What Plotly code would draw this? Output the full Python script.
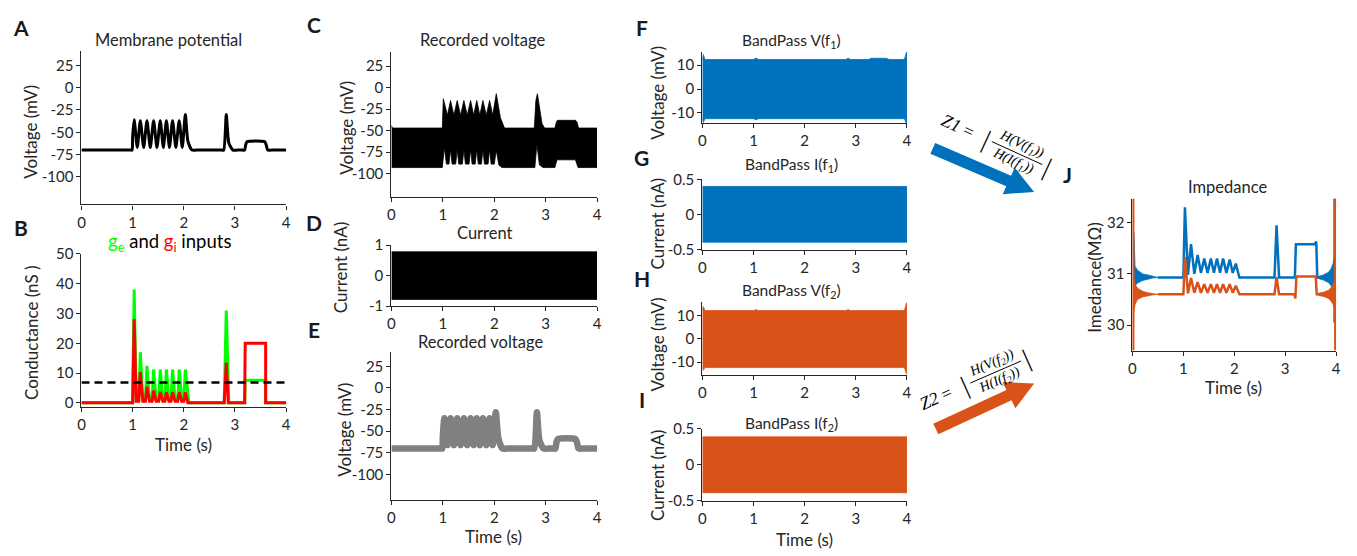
import math
import plotly.graph_objects as go

# ---------------- data ----------------
# A / E : membrane potential and recovered voltage (shared time vertices, s)
t_mem = [0, 0.97, 0.99, 1.0, 1.03, 1.09, 1.15, 1.215, 1.28, 1.345, 1.41, 1.475, 1.54, 1.60,
         1.66, 1.72, 1.78, 1.845, 1.91, 1.97, 2.03, 2.08, 2.16, 2.25, 2.74, 2.78, 2.83, 2.88,
         2.96, 3.05, 3.15, 3.19, 3.21, 3.24, 3.58, 3.61, 3.64, 3.72, 4.0]
v_membrane = [-70, -70, -70, -55, -36, -67, -37, -67, -37, -67, -37, -67, -37, -67, -37, -67,
              -37, -67, -37, -67, -30, -60, -70, -70, -70, -70, -30, -62, -70, -70, -70, -70,
              -64, -60.5, -60.5, -64, -70, -70, -70]
v_recovered = [-70, -70, -70, -56, -35, -66, -35, -66, -35, -66, -35, -66, -35, -66, -35, -66,
               -35, -66, -35, -66, -28, -58, -70, -70, -70, -70, -28, -61, -70, -70, -70, -70,
               -63, -59, -59, -63, -70, -70, -70]

# B : conductances (nS)
ge_t = [0, 1.0, 1.03, 1.07, 1.12, 1.15, 1.2, 1.25, 1.28, 1.33, 1.38, 1.41, 1.46, 1.51, 1.54,
        1.59, 1.63, 1.66, 1.71, 1.75, 1.78, 1.83, 1.88, 1.91, 1.96, 2.0, 2.03, 2.1, 2.79,
        2.83, 2.88, 3.19, 3.2, 3.6, 3.6, 4.0]
ge_v = [0, 0, 38, 1, 1, 17, 1, 1, 12.4, 1, 1, 11.2, 1, 1, 11.2, 1, 1, 11.2, 1, 1, 11.2, 1, 1,
        11.2, 1, 1, 11.2, 0, 0, 31, 0, 0, 7.6, 7.6, 0, 0]
gi_t = [0, 1.0, 1.03, 1.07, 1.12, 1.15, 1.2, 1.25, 1.28, 1.33, 1.38, 1.41, 1.46, 1.51, 1.54,
        1.59, 1.63, 1.66, 1.71, 1.75, 1.78, 1.83, 1.88, 1.91, 1.96, 2.0, 2.03, 2.08, 2.79,
        2.83, 2.87, 3.19, 3.2, 3.6, 3.6, 4.0]
gi_v = [0, 0, 28, 0.5, 0.5, 10.3, 0.5, 0.5, 5.4, 0.5, 0.5, 4.1, 0.5, 0.5, 3.7, 0.5, 0.5, 3.6,
        0.5, 0.5, 3.6, 0.5, 0.5, 3.6, 0.5, 0.5, 3.6, 0, 0, 13.5, 0, 0, 20, 20, 0, 0]
threshold_t = [0, 4]
threshold_v = [6.8, 6.8]

# C : recorded voltage envelope (mV)
c_up_t = [0, 0.02, 0.99, 1.01, 1.09, 1.15, 1.215, 1.28, 1.345, 1.41, 1.475, 1.54, 1.60, 1.66,
          1.72, 1.78, 1.845, 1.91, 1.97, 2.04, 2.12, 2.2, 2.78, 2.81, 2.84, 2.88, 2.93, 2.98,
          3.18, 3.21, 3.23, 3.58, 3.61, 3.64, 4.0]
c_up_v = [-44, -47, -47, -13, -32, -15, -32, -15, -32, -15, -32, -15, -32, -15, -32, -15, -32,
          -15, -32, -7, -35, -47, -47, -15, -7, -25, -42, -47, -47, -40, -38, -38, -40, -47, -47]
c_lo_t = [0, 0.99, 1.03, 1.07, 1.12, 1.15, 1.18, 1.25, 1.28, 1.31, 1.38, 1.41, 1.44, 1.51, 1.54,
          1.57, 1.63, 1.66, 1.69, 1.75, 1.78, 1.81, 1.88, 1.91, 1.94, 2.0, 2.04, 2.09, 2.15,
          2.79, 2.83, 2.88, 2.95, 3.18, 3.22, 3.58, 3.63, 4.0]
c_lo_v = [-93, -93, -70, -89, -89, -72, -89, -89, -72, -89, -89, -72, -89, -89, -72, -89, -89,
          -72, -89, -89, -72, -89, -89, -72, -89, -89, -73, -90, -93, -93, -66, -90, -93, -93,
          -84, -84, -93, -93]

# D : injected current envelope (nA)
d_t = [0, 4]
d_up = [0.78, 0.78]
d_lo = [-0.78, -0.78]

# F, H : band-passed voltage envelopes (mV)
f_t = [0, 0.02, 0.05, 1.0, 1.05, 1.1, 2.8, 2.85, 2.9, 3.25, 3.3, 3.6, 3.65, 3.95, 3.99, 4.0]
f_up = [12.3, 14.5, 12.4, 12.4, 13.0, 12.4, 12.4, 12.9, 12.4, 12.4, 12.9, 12.9, 12.4, 12.4, 15.5, 15.5]
f_lo = [-12.3, -14.0, -12.4, -12.4, -12.8, -12.4, -12.4, -12.6, -12.4, -12.4, -12.4, -12.4,
        -12.4, -12.4, -14.5, -14.5]
h_t = [0, 0.02, 0.05, 1.0, 1.05, 1.1, 2.8, 2.85, 2.9, 3.25, 3.3, 3.6, 3.65, 3.95, 3.99, 4.0]
h_up = [12.3, 14.0, 12.2, 12.2, 12.6, 12.2, 12.2, 12.6, 12.2, 12.2, 12.5, 12.5, 12.2, 12.2, 15.5, 15.5]
h_lo = [-12.3, -13.5, -12.3, -12.3, -12.6, -12.3, -12.3, -12.5, -12.3, -12.3, -12.3, -12.3,
        -12.3, -12.3, -15.0, -15.0]

# G, I : band-passed current envelopes (nA)
g_t = [0, 4]
g_up = [0.40, 0.40]
g_lo = [-0.39, -0.39]
i_t = [0, 4]
i_up = [0.39, 0.39]
i_lo = [-0.39, -0.39]

# J : impedance (MOhm)
jb_t = [0.5, 1.0, 1.03, 1.09, 1.15, 1.215, 1.28, 1.345, 1.41, 1.475, 1.54, 1.60, 1.66, 1.72,
        1.78, 1.845, 1.91, 1.97, 2.03, 2.1, 2.79, 2.83, 2.88, 3.19, 3.21, 3.58, 3.61, 3.63, 3.7]
jb_v = [30.93, 30.93, 32.3, 30.98, 31.58, 31.0, 31.37, 31.02, 31.3, 31.02, 31.3, 31.02, 31.3,
        31.02, 31.3, 31.02, 31.28, 31.02, 31.2, 30.93, 30.93, 31.95, 30.93, 30.93, 31.58, 31.58,
        31.63, 30.93, 30.93]
jb_left_t = [0.03, 0.05, 0.1, 0.2, 0.3, 0.4, 0.5]
jb_left_up = [31.8, 31.15, 31.07, 31.0, 30.98, 30.95, 30.93]
jb_left_lo = [30.75, 30.77, 30.82, 30.87, 30.9, 30.92, 30.93]
jb_right_t = [3.65, 3.75, 3.85, 3.9, 3.94, 3.97]
jb_right_up = [30.95, 30.98, 31.03, 31.1, 31.2, 31.35]
jb_right_lo = [30.91, 30.88, 30.83, 30.77, 30.7, 30.6]
jb_spike_t = [3.97, 3.97]
jb_spike_v = [30.05, 32.5]

jo_t = [0.5, 1.0, 1.03, 1.09, 1.15, 1.215, 1.28, 1.345, 1.41, 1.475, 1.54, 1.60, 1.66, 1.72,
        1.78, 1.845, 1.91, 1.97, 2.03, 2.1, 2.79, 2.83, 2.88, 3.18, 3.2, 3.22, 3.58, 3.6, 3.62, 3.7]
jo_v = [30.6, 30.6, 31.33, 30.62, 30.92, 30.63, 30.84, 30.63, 30.8, 30.63, 30.8, 30.63, 30.8,
        30.63, 30.8, 30.63, 30.8, 30.63, 30.77, 30.6, 30.6, 30.94, 30.6, 30.6, 30.52, 30.95,
        30.95, 30.95, 30.6, 30.6]
jo_left_t = [0.02, 0.05, 0.1, 0.2, 0.3, 0.4, 0.5]
jo_left_up = [30.95, 30.8, 30.72, 30.66, 30.63, 30.61, 30.6]
jo_left_lo = [30.2, 30.4, 30.5, 30.55, 30.57, 30.59, 30.6]
jo_right_t = [3.65, 3.75, 3.85, 3.9, 3.94, 3.97]
jo_right_up = [30.62, 30.64, 30.68, 30.73, 30.8, 30.9]
jo_right_lo = [30.58, 30.56, 30.52, 30.47, 30.4, 30.3]
jo_spike_left_t = [0.015, 0.015]
jo_spike_right_t = [3.985, 3.985]
jo_spike_v = [29.5, 32.5]

time_ticks = [0, 1, 2, 3, 4]

# ---------------- styling ----------------
W, H = 1357, 556
BLUE = '#0072BD'
ORANGE = '#D95319'
GREEN = '#00FF00'
RED = '#FF0000'
GRAY = '#808080'
AX = '#262626'
FONT = 'Lato'


def px(x):
    return x / W


def py(y):
    return 1 - y / H


# panel: axis index, x0, x1 (px), ytop, ybottom (px), y range, y ticks
panels = {
    'A': (1, 78, 284, 42, 201, [-131, 41.5], [25, 0, -25, -50, -75, -100]),
    'B': (2, 78, 284, 252, 410, [-1.3, 50], [0, 10, 20, 30, 40, 50]),
    'C': (3, 390, 597, 43, 193, [-127, 42], [25, 0, -25, -50, -75, -100]),
    'D': (4, 390, 597, 243, 306, [-1, 1], [-1, 0, 1]),
    'E': (5, 390, 597, 353, 506, [-129, 42], [25, 0, -25, -50, -75, -100]),
    'F': (6, 703, 909, 43, 117, [-14.3, 15.7], [-10, 0, 10]),
    'G': (7, 703, 909, 175, 248, [-0.5, 0.5], [-0.5, 0, 0.5]),
    'H': (8, 703, 909, 302, 377, [-15.4, 15.8], [-10, 0, 10]),
    'I': (9, 703, 909, 433, 507, [-0.5, 0.5], [-0.5, 0, 0.5]),
    'J': (10, 1136, 1341, 195, 352, [29.5, 32.47], [30, 31, 32]),
}

fig = go.Figure()
layout = dict(width=W, height=H, margin=dict(l=0, r=0, t=0, b=0),
              paper_bgcolor='white', plot_bgcolor='rgba(0,0,0,0)', showlegend=False,
              font=dict(family=FONT, color=AX, size=14))

for name, (i, x0, x1, yt, yb, yr, yt_vals) in panels.items():
    s = '' if i == 1 else str(i)
    layout['xaxis' + s] = dict(domain=[px(x0), px(x1)], anchor='y' + s, range=[0, 4],
                               tickvals=time_ticks, showline=True, linecolor=AX, linewidth=1.2,
                               ticks='outside', ticklen=4, tickcolor=AX, showgrid=False,
                               zeroline=False, tickfont=dict(size=15, color=AX, family=FONT),
                               fixedrange=True)
    ticktext = [('%g' % v) for v in yt_vals]
    layout['yaxis' + s] = dict(domain=[py(yb), py(yt)], anchor='x' + s, range=yr,
                               tickvals=yt_vals, ticktext=ticktext, showline=True, linecolor=AX,
                               linewidth=1.2, ticks='outside', ticklen=4, tickcolor=AX,
                               showgrid=False, zeroline=False,
                               tickfont=dict(size=15, color=AX, family=FONT), fixedrange=True)


def ax(name):
    i = panels[name][0]
    s = '' if i == 1 else str(i)
    return 'x' + s, 'y' + s


def line(name, x, y, color, width, shape='linear', dash=None, smoothing=None):
    xa, ya = ax(name)
    ln = dict(color=color, width=width, shape=shape)
    if dash:
        ln['dash'] = dash
    if smoothing is not None:
        ln['smoothing'] = smoothing
    fig.add_trace(go.Scatter(x=x, y=y, mode='lines', line=ln, xaxis=xa, yaxis=ya,
                             hoverinfo='skip'))


def band(name, t_up, up, t_lo, lo, color, shape='linear'):
    xa, ya = ax(name)
    fig.add_trace(go.Scatter(x=list(t_up) + list(t_lo)[::-1], y=list(up) + list(lo)[::-1],
                             mode='lines', fill='toself', fillcolor=color,
                             line=dict(color=color, width=0.8, shape=shape),
                             xaxis=xa, yaxis=ya, hoverinfo='skip'))


# A
line('A', t_mem, v_membrane, 'black', 3, shape='spline', smoothing=0.6)
# B
line('B', ge_t, ge_v, GREEN, 3)
line('B', gi_t, gi_v, RED, 3)
line('B', threshold_t, threshold_v, 'black', 2.5, dash='8px,5px')
# C
band('C', c_up_t, c_up_v, c_lo_t, c_lo_v, 'black')
# D
band('D', d_t, d_up, d_t, d_lo, 'black')
# E
line('E', t_mem, v_recovered, GRAY, 6.5, shape='spline', smoothing=0.6)
# F-I
band('F', f_t, f_up, f_t, f_lo, BLUE)
band('G', g_t, g_up, g_t, g_lo, BLUE)
band('H', h_t, h_up, h_t, h_lo, ORANGE)
band('I', i_t, i_up, i_t, i_lo, ORANGE)
# J
band('J', jb_left_t, jb_left_up, jb_left_t, jb_left_lo, BLUE)
band('J', jb_right_t, jb_right_up, jb_right_t, jb_right_lo, BLUE)
line('J', jb_t, jb_v, BLUE, 2.5)
line('J', jb_spike_t, jb_spike_v, BLUE, 2.5)
band('J', jo_left_t, jo_left_up, jo_left_t, jo_left_lo, ORANGE)
band('J', jo_right_t, jo_right_up, jo_right_t, jo_right_lo, ORANGE)
line('J', jo_t, jo_v, ORANGE, 2.5)
line('J', jo_spike_left_t, jo_spike_v, ORANGE, 2.5)
line('J', jo_spike_right_t, jo_spike_v, ORANGE, 2.5)

# ---------------- text ----------------
annotations = []


def text(x, y, s, size=15, angle=0, color=AX, family=FONT, bold=False):
    if bold:
        s = '<b>' + s + '</b>'
    annotations.append(dict(x=px(x), y=py(y), xref='paper', yref='paper', text=s,
                            showarrow=False, xanchor='center', yanchor='middle',
                            textangle=angle, font=dict(size=size, color=color, family=family)))


# panel letters
for letter, (lx, ly) in {'A': (17, 18), 'B': (17, 225), 'C': (312, 15), 'D': (312, 220),
                         'E': (312, 330), 'F': (642, 18), 'G': (642, 152), 'H': (642, 277),
                         'I': (642, 403), 'J': (1071, 170)}.items():
    text(lx, ly, letter, size=21, bold=True, color='#1a1a1a')

# panel titles
TS = 16.5
text(166, 31, 'Membrane potential', TS)
text(167, 240, '<span style="color:%s">g<sub>e</sub></span> and '
               '<span style="color:%s">g<sub>i</sub></span> inputs' % (GREEN, RED), 18.5, color='black')
text(482, 31, 'Recorded voltage', TS)
text(484, 230, 'Current', TS)
text(480, 343, 'Recorded voltage', TS)
text(793, 32, 'BandPass V(f<sub>1</sub>)', 15.5)
text(793, 160, 'BandPass I(f<sub>1</sub>)', 15.5)
text(793, 290, 'BandPass V(f<sub>2</sub>)', 15.5)
text(793, 428, 'BandPass I(f<sub>2</sub>)', 15.5)
text(1232, 183, 'Impedance', TS)

# y-axis titles
YS = 17
text(27, 126, 'Voltage (mV)', YS, angle=-90)
text(27, 333, 'Conductance (nS )', YS, angle=-90)
text(344, 122, 'Voltage (mV)', YS, angle=-90)
text(339, 266, 'Current (nA)', YS, angle=-90)
text(343, 434, 'Voltage (mV)', YS, angle=-90)
text(658, 86, 'Voltage (mV)', YS, angle=-90)
text(658, 221, 'Current (nA)', YS, angle=-90)
text(658, 346, 'Voltage (mV)', YS, angle=-90)
text(658, 481, 'Current (nA)', YS, angle=-90)
text(1097, 276, 'Imedance(MΩ)', YS, angle=-90)

# x-axis titles
XS = 17
text(181, 449, 'Time (s)', XS)
text(493, 544, 'Time (s)', XS)
text(806, 547, 'Time (s)', XS)
text(1238, 390, 'Time (s)', XS)

# ---------------- arrows and impedance formulas ----------------
shapes = []


def arrow(tail, tip, color, shaft_hw=6, head_hw=15, head_len=28):
    dx, dy = tip[0] - tail[0], tip[1] - tail[1]
    L = math.hypot(dx, dy)
    ux, uy = dx / L, dy / L
    nx, ny = -uy, ux
    bx, by = tip[0] - head_len * ux, tip[1] - head_len * uy
    pts = [(tail[0] + shaft_hw * nx, tail[1] + shaft_hw * ny),
           (bx + shaft_hw * nx, by + shaft_hw * ny),
           (bx + head_hw * nx, by + head_hw * ny),
           tip,
           (bx - head_hw * nx, by - head_hw * ny),
           (bx - shaft_hw * nx, by - shaft_hw * ny),
           (tail[0] - shaft_hw * nx, tail[1] - shaft_hw * ny)]
    path = 'M ' + ' L '.join('%f,%f' % (px(x), py(y)) for x, y in pts) + ' Z'
    shapes.append(dict(type='path', path=path, xref='paper', yref='paper',
                       fillcolor=color, line=dict(width=0)))


arrow((935, 143), (1037, 188), BLUE)
arrow((938, 433), (1037, 386), ORANGE)


def formula(origin, angle_deg, label, sub):
    th = math.radians(angle_deg)
    d = (math.cos(th), math.sin(th))
    n = (math.sin(th), -math.cos(th))

    def at(s, k=0):
        return origin[0] + s * d[0] + k * n[0], origin[1] + s * d[1] + k * n[1]

    serif = 'Liberation Serif'
    x, y = at(0)
    text(x, y, '<i>%s</i> =' % label, 18, angle=angle_deg, color='black', family=serif)
    x, y = at(32)
    text(x, y, '|', 26, angle=angle_deg, color='black', family=serif)
    x, y = at(66, 10)
    text(x, y, '<i>H(V(f<sub>%s</sub>))</i>' % sub, 14, angle=angle_deg, color='black', family=serif)
    x, y = at(66, -10)
    text(x, y, '<i>H(I(f<sub>%s</sub>))</i>' % sub, 14, angle=angle_deg, color='black', family=serif)
    x, y = at(100)
    text(x, y, '|', 26, angle=angle_deg, color='black', family=serif)
    xa, ya = at(38)
    xb, yb = at(94)
    shapes.append(dict(type='line', xref='paper', yref='paper', x0=px(xa), y0=py(ya),
                       x1=px(xb), y1=py(yb), line=dict(color='black', width=1)))


formula((960, 120), 25, 'Z1', '1')
formula((938, 401), -24, 'Z2', '2')

layout['annotations'] = annotations
layout['shapes'] = shapes
fig.update_layout(**layout)
fig.write_html('out.html')
